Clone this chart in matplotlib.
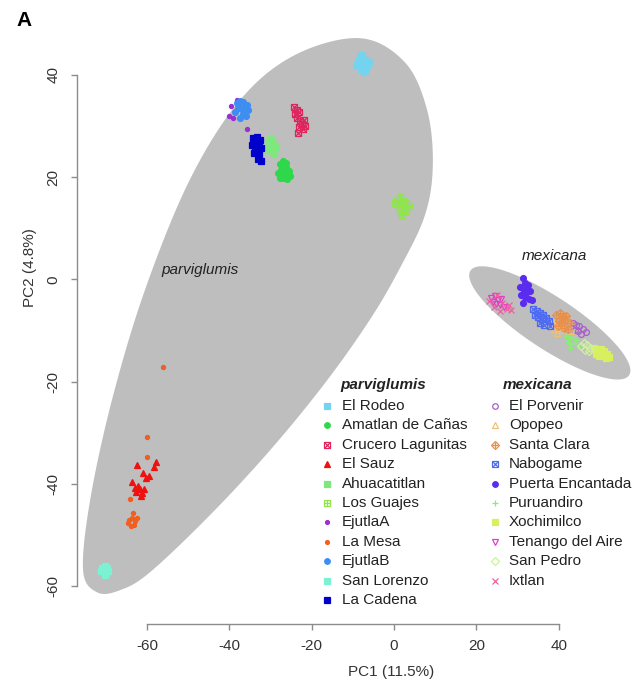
import numpy as np
import matplotlib.pyplot as plt

plt.rcParams['font.family'] = ['Liberation Sans', 'DejaVu Sans']
plt.rcParams['axes.unicode_minus'] = False

# ---- parviglumis populations ----
parv_names = ['El Rodeo', 'Amatlan de Cañas', 'Crucero Lagunitas', 'El Sauz',
              'Ahuacatitlan', 'Los Guajes', 'EjutlaA', 'La Mesa', 'EjutlaB',
              'San Lorenzo', 'La Cadena']
parv_colors = ['#74d4f0', '#2fd84a', '#e0245e', '#f01010', '#7ee87e', '#8ee64a',
               '#9b30d0', '#f06020', '#3d8ef0', '#7cf2d2', '#0000cc']
parv_markers = ['s', 'o', 'sx', '^', 's', 's+', '.', '.', 'o', 's', 's']
parv_x = [
    [-8.6, -7.9, -7.2, -6.5, -8.1, -7.4, -6.8, -8.9, -7.7, -6.2, -7.0, -8.3],
    [-27.8, -26.9, -26.2, -27.4, -25.6, -26.6, -28.1, -27.0, -25.9, -26.3, -27.6, -25.2],
    [-24.2, -23.6, -24.0, -23.2, -23.5, -22.8, -22.3, -21.6, -22.0, -23.0, -21.8, -23.3],
    [-62.6, -61.8, -61.2, -62.1, -60.8, -61.5, -62.9, -60.2, -59.4, -58.3, -62.4, -57.9, -63.6, -60.9],
    [-30.4, -29.8, -29.1, -30.0, -29.4, -28.7, -30.6, -29.2],
    [0.6, 1.4, 2.2, 3.0, 1.0, 1.8, 2.6, 0.3, 1.5, 2.9, 2.0, 3.6],
    [-39.5, -40.0, -38.2, -35.6, -39.2, -37.6],
    [-64.3, -63.6, -62.8, -63.9, -63.1, -64.6, -62.4, -63.4, -56.0, -60.1, -60.0, -64.1],
    [-38.2, -37.4, -36.6, -35.8, -37.9, -37.0, -36.2, -35.4, -38.6, -36.8, -35.9, -37.5],
    [-70.8, -70.2, -69.6, -70.5, -69.9, -71.1, -69.4, -70.3],
    [-34.2, -33.4, -32.6, -34.6, -33.8, -32.9, -32.2, -33.5, -34.0, -32.7, -33.1, -32.4],
]
parv_y = [
    [42.8, 43.4, 42.1, 41.7, 41.2, 40.6, 43.0, 42.0, 44.0, 42.6, 41.0, 43.7],
    [22.6, 23.2, 22.0, 21.4, 21.2, 20.6, 20.9, 19.8, 19.6, 22.7, 19.9, 20.3],
    [33.8, 33.2, 32.4, 32.8, 31.6, 31.0, 30.4, 30.0, 29.4, 29.8, 31.2, 28.6],
    [-41.6, -41.0, -41.8, -40.4, -40.9, -42.3, -40.8, -38.8, -38.4, -36.6, -36.2, -35.8, -39.7, -37.9],
    [26.8, 27.4, 26.5, 25.6, 25.1, 25.9, 25.4, 24.6],
    [15.6, 16.2, 15.4, 15.0, 14.3, 14.8, 13.9, 14.9, 13.2, 13.4, 12.7, 14.3],
    [34.0, 32.0, 35.2, 29.5, 31.6, 34.5],
    [-47.0, -46.6, -47.3, -48.2, -48.0, -47.7, -46.7, -45.6, -17.1, -30.8, -34.7, -43.0],
    [34.6, 35.0, 34.8, 34.2, 33.6, 33.4, 33.8, 33.1, 32.8, 32.4, 32.0, 31.6],
    [-56.4, -56.0, -56.5, -57.2, -57.4, -57.0, -57.1, -57.8],
    [27.6, 27.9, 27.2, 26.4, 26.1, 26.6, 25.8, 25.2, 24.8, 24.5, 23.6, 23.1],
]

# ---- mexicana populations ----
mex_names = ['El Porvenir', 'Opopeo', 'Santa Clara', 'Nabogame', 'Puerta Encantada',
             'Puruandiro', 'Xochimilco', 'Tenango del Aire', 'San Pedro', 'Ixtlan']
mex_colors = ['#a860c8', '#f0c078', '#e8904a', '#4f6cf0', '#5a2cf0',
              '#8cec7a', '#d8f060', '#e040c8', '#d0f0a0', '#f060a0']
mex_markers = ['o_open', '^_open', 'D+', 'sx', 'o', '+', 's', 'v_open', 'D_open', 'x']
mex_x = [
    [43.4, 44.2, 45.0, 45.8, 46.5, 44.6, 45.4, 43.9],
    [38.4, 39.2, 38.8, 40.4, 39.6, 42.9],
    [39.4, 40.2, 41.0, 41.8, 40.0, 40.8, 41.6, 42.6, 39.8, 41.2, 42.2],
    [33.8, 34.6, 35.4, 36.2, 34.2, 35.0, 35.9, 36.8, 37.6, 35.5, 36.4, 37.9],
    [31.2, 31.9, 32.5, 30.6, 31.5, 32.3, 33.1, 30.9, 31.8, 32.8, 31.4, 33.6],
    [41.8, 42.6, 43.4, 44.2, 42.2, 43.0, 43.9, 44.8, 42.8],
    [48.6, 49.4, 50.2, 51.0, 51.8, 49.0, 49.8, 50.6, 51.4, 52.2],
    [23.6, 24.4, 25.2, 26.0, 24.8, 25.6, 26.6, 24.0],
    [46.0, 46.8, 47.6, 45.4, 46.4, 47.2],
    [23.0, 24.2, 25.0, 26.2, 27.4, 27.9, 25.8, 28.3],
]
mex_y = [
    [-8.6, -8.9, -9.2, -9.6, -10.2, -10.0, -10.6, -9.8],
    [-8.0, -8.8, -9.6, -9.9, -10.4, -10.0],
    [-7.0, -6.6, -7.4, -7.1, -8.2, -8.4, -8.0, -8.6, -9.2, -9.4, -9.6],
    [-5.8, -6.2, -6.6, -6.9, -7.0, -7.4, -7.8, -7.6, -8.2, -8.6, -9.0, -9.2],
    [0.2, -0.6, -1.0, -1.5, -2.0, -2.4, -2.2, -3.1, -3.4, -3.8, -4.6, -4.0],
    [-11.0, -11.4, -11.2, -11.8, -12.2, -12.6, -12.4, -13.0, -13.4],
    [-13.4, -13.8, -13.6, -14.0, -14.6, -14.6, -15.0, -14.8, -15.4, -15.2],
    [-3.6, -3.2, -4.0, -3.8, -4.8, -5.0, -5.4, -4.4],
    [-12.4, -12.8, -13.4, -13.0, -13.8, -14.0],
    [-4.2, -5.4, -3.0, -4.6, -5.8, -4.9, -6.2, -6.0],
]

# outline of the parviglumis region (x, y), clockwise from the top
parv_outline = [(-8.3, 47.2), (2.6, 42.5), (8.0, 33.2), (9.4, 22.4), (7.5, 12.6),
                (1.4, 2.2), (-5.9, -7.9), (-16.8, -20.3), (-30.1, -33.4),
                (-44.7, -46.1), (-59.3, -57.3), (-66.6, -60.8), (-72.1, -61.2),
                (-75.5, -56.9), (-73.8, -43.2), (-68.5, -23.6), (-60.5, -2.1),
                (-49.6, 19.5), (-37.4, 35.1), (-24.1, 43.9)]
# mexicana ellipse: centre, half-lengths in pixels, tilt in degrees
mex_center = (37.8, -8.5)
mex_half_px = (95, 26)
mex_tilt = -33.4

W, H = 638, 685
fig = plt.figure(figsize=(W / 100, H / 100), dpi=100)
left_px, right_px, top_px, bottom_px = 76.5, 633, 30, 624
ax = fig.add_axes([left_px / W, 1 - bottom_px / H,
                   (right_px - left_px) / W, (bottom_px - top_px) / H])
xlim = (-77.1, 58.0)
ylim = (-67.4, 48.8)
ax.set_xlim(xlim)
ax.set_ylim(ylim)
px_x = (right_px - left_px) / (xlim[1] - xlim[0])
px_y = (bottom_px - top_px) / (ylim[1] - ylim[0])

GRAY = '#bebebe'


def smooth_closed(pts, n=40):
    p = np.asarray(pts, dtype=float)
    m = len(p)
    t = np.linspace(0, 1, n, endpoint=False)[:, None]
    out = []
    for i in range(m):
        p0, p1, p2, p3 = p[i - 1], p[i], p[(i + 1) % m], p[(i + 2) % m]
        out.append(0.5 * (2 * p1 + (-p0 + p2) * t + (2 * p0 - 5 * p1 + 4 * p2 - p3) * t ** 2
                          + (-p0 + 3 * p1 - 3 * p2 + p3) * t ** 3))
    return np.vstack(out)


outline = smooth_closed(parv_outline)
ax.fill(outline[:, 0], outline[:, 1], color=GRAY, lw=0, zorder=0)

t = np.linspace(0, 2 * np.pi, 300)
th = np.radians(mex_tilt)
u = mex_half_px[0] * np.cos(t)
v = mex_half_px[1] * np.sin(t)
ex = mex_center[0] + (u * np.cos(th) - v * np.sin(th)) / px_x
ey = mex_center[1] + (u * np.sin(th) + v * np.cos(th)) / px_y
ax.fill(ex, ey, color=GRAY, lw=0, zorder=0)

MARKER_PARTS = {
    's': [('s', True)], 'o': [('o', True)], '.': [('o', True)], '^': [('^', True)],
    'sx': [('s', False), ('x', False)], 's+': [('s', False), ('+', False)],
    'D+': [('D', False), ('+', False)], 'o_open': [('o', False)],
    '^_open': [('^', False)], 'v_open': [('v', False)], 'D_open': [('D', False)],
    '+': [('+', False)], 'x': [('x', False)],
}


def draw_points(target, xs, ys, style, color, ms=4.2, **kw):
    size = ms * 0.7 if style == '.' else ms
    for m, filled in MARKER_PARTS[style]:
        target.plot(xs, ys, linestyle='none', marker=m, ms=size,
                    mfc=color if filled else 'none', mec=color, mew=0.9, **kw)


for xs, ys, st, c in zip(parv_x, parv_y, parv_markers, parv_colors):
    draw_points(ax, xs, ys, st, c, zorder=3)
for xs, ys, st, c in zip(mex_x, mex_y, mex_markers, mex_colors):
    draw_points(ax, xs, ys, st, c, zorder=3)

ax.text(-47.1, 1.8, 'parviglumis', style='italic', fontsize=11, ha='center', va='center', color='#222222')
ax.text(39.0, 4.6, 'mexicana', style='italic', fontsize=11, ha='center', va='center', color='#222222')

# R-style axes
for s in ['top', 'right']:
    ax.spines[s].set_visible(False)
for s in ['left', 'bottom']:
    ax.spines[s].set_bounds(-60, 40)
    ax.spines[s].set_color('#8c8c8c')
    ax.spines[s].set_linewidth(1.0)
ax.set_xticks(range(-60, 41, 20))
ax.set_yticks(range(-60, 41, 20))
ax.tick_params(direction='out', length=4.5, width=1.0, color='#8c8c8c',
               labelsize=11, labelcolor='#333333')
ax.tick_params(axis='x', pad=6)
ax.tick_params(axis='y', pad=7)
for lab in ax.get_yticklabels():
    lab.set_rotation(90)
    lab.set_va('center')
ax.set_facecolor('none')

fig.text(391 / W, 1 - 672 / H, 'PC1 (11.5%)', fontsize=11, ha='center', va='center', color='#333333')
fig.text(30 / W, 1 - 268 / H, 'PC2 (4.8%)', fontsize=11, ha='center', va='center',
         rotation=90, color='#333333')
fig.text(24 / W, 1 - 21 / H, 'A', fontsize=15, fontweight='bold', ha='center', va='center')

# legend, laid out in pixel positions on the figure
legend_ax = fig.add_axes([0, 0, 1, 1], facecolor='none')
legend_ax.set_xlim(0, W)
legend_ax.set_ylim(H, 0)
legend_ax.axis('off')
row0, step = 406, 19.4
for names, colors, markers, mx, tx, hx, head in [
        (parv_names, parv_colors, parv_markers, 327, 342, 340, 'parviglumis'),
        (mex_names, mex_colors, mex_markers, 495, 509, 503, 'mexicana')]:
    legend_ax.text(hx, 385, head, fontsize=11, style='italic', fontweight='bold',
                   ha='left', va='center', color='#222222')
    for i, (nm, c, st) in enumerate(zip(names, colors, markers)):
        y = row0 + i * step
        draw_points(legend_ax, [mx], [y], st, c, ms=4.0)
        legend_ax.text(tx, y, nm, fontsize=11, ha='left', va='center', color='#222222')

fig.savefig('out.png', dpi=100)
